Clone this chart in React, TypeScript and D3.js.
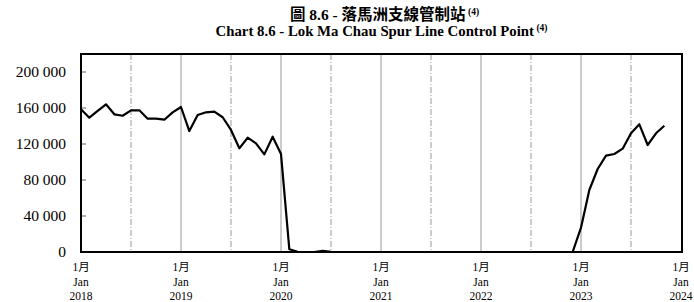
import React from "react";
import * as d3 from "d3";

const titleZh = "圖 8.6 - 落馬洲支線管制站";
const titleEn = "Chart 8.6 -  Lok Ma Chau Spur Line Control Point";
const noteMark = "(4)";

const startYear = 2018;
const yTicks = [0, 40000, 80000, 120000, 160000, 200000];
const xYears = [2018, 2019, 2020, 2021, 2022, 2023, 2024];
const monthZh = "1月";
const monthEn = "Jan";

// Monthly passenger trips, Jan 2018 - Nov 2023
const values2018 = [158600, 149200, 156700, 164100, 153000, 151400, 157400, 157400, 148100, 148100, 147000, 155200];
const values2019 = [161100, 134400, 152200, 155200, 155900, 149700, 135600, 115200, 127000, 120700, 108500, 128100];
const values2020 = [108900, 3000, 300, 0, 0, 1200, 300, 0, 0, 0, 0, 0];
const values2021 = [0, 0, 0, 0, 0, 0, 0, 0, 0, 0, 0, 0];
const values2022 = [0, 0, 0, 0, 0, 0, 0, 0, 0, 0, 0, 0];
const values2023 = [27000, 68900, 92200, 107000, 108900, 114800, 131900, 141900, 118900, 131900, 140300];

const allValues = [...values2018, ...values2019, ...values2020, ...values2021, ...values2022, ...values2023];

export default function App() {
  const W = 694, H = 302;
  const left = 81, right = 682, top = 54, bottom = 252;
  const x = d3.scaleLinear().domain([0, 72]).range([left, left + 600]);
  const y = d3.scaleLinear().domain([0, 220000]).range([bottom, top]);
  const line = d3.line<number>().x((_, i) => x(i)).y((d) => y(d));
  const font = "'Liberation Serif', 'Noto Sans CJK TC', serif";
  const cx = (left + right) / 2;
  const halfYears = d3.range(1, 12).map((k) => k * 6);
  return (
    <svg width={W} height={H} style={{ position: "absolute", left: 0, top: 0, fontFamily: font }}>
      <text x={cx + 3} y={19.5} textAnchor="middle" fontWeight="bold" fontSize={15.5}>
        {titleZh}
        <tspan fontSize={9.5} dy={-5}> {noteMark}</tspan>
      </text>
      <text x={cx} y={36} textAnchor="middle" fontWeight="bold" fontSize={14.8}>
        {titleEn}
        <tspan fontSize={9.5} dy={-5}> {noteMark}</tspan>
      </text>
      {halfYears.map((m) => (
        <line key={m} x1={x(m)} x2={x(m)} y1={top} y2={bottom}
          stroke="#999" strokeWidth={1}
          strokeDasharray={m % 12 === 0 ? undefined : "6,2,1,2"} />
      ))}
      {yTicks.map((t) => (
        <g key={t}>
          <line x1={left} x2={left + 5} y1={y(t)} y2={y(t)} stroke="#666" />
          <text x={66} y={y(t)} dy="0.35em" textAnchor="end" fontSize={15.5}>
            {d3.format(",")(t).replace(/,/g, " ")}
          </text>
        </g>
      ))}
      <path d={line(allValues) || ""} fill="none" stroke="#000" strokeWidth={2.2} strokeLinejoin="round" />
      <rect x={left} y={top} width={right - left} height={bottom - top} fill="none" stroke="#000" strokeWidth={2} />
      {xYears.map((yr) => {
        const px = x((yr - startYear) * 12);
        return (
          <g key={yr} fontSize={11.5} textAnchor="middle">
            <text x={px} y={271}>{monthZh}</text>
            <text x={px} y={286}>{monthEn}</text>
            <text x={px} y={300}>{yr}</text>
          </g>
        );
      })}
    </svg>
  );
}
